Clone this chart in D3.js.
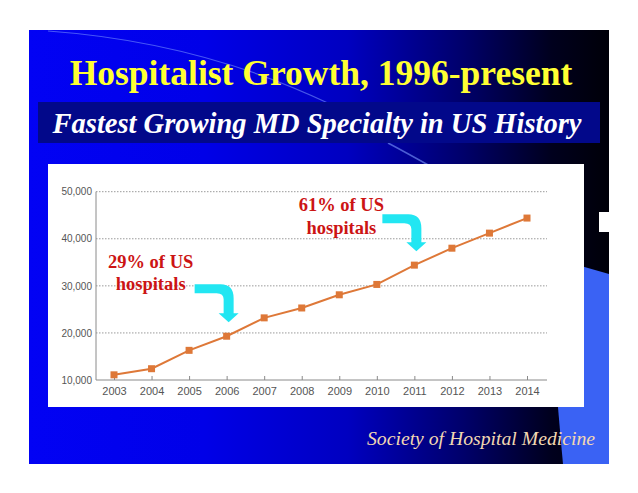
<!DOCTYPE html>
<html><head><meta charset="utf-8">
<script src="https://cdn.jsdelivr.net/npm/d3@7/dist/d3.min.js"></script>
<style>body{margin:0;background:#fff;} svg{display:block}
.serif{font-family:"Liberation Serif","Times New Roman",Times,serif;}
.sans{font-family:"Liberation Sans",Arial,Helvetica,sans-serif;}
</style>
</head><body><svg id="c" width="638" height="493"></svg>
<script>
// ---- data ----
const years = [2003,2004,2005,2006,2007,2008,2009,2010,2011,2012,2013,2014];
const hospitalists = [11100,12400,16300,19300,23200,25300,28100,30300,34400,38000,41200,44400];
const yTicks = [10000,20000,30000,40000,50000];
const gridTicks = [20000,30000,40000,50000];
const annoYears = [2006, 2011];
const annoLine1 = ["29% of US", "61% of US"];
const annoLine2 = ["hospitals", "hospitals"];
const titleText = "Hospitalist Growth, 1996-present";
const subtitleText = "Fastest Growing MD Specialty in US History";
const sourceText = "Society of Hospital Medicine";

// ---- layout ----
const svg = d3.select("#c");
const defs = svg.append("defs");
const g = defs.append("linearGradient").attr("id","bg").attr("x1","0").attr("x2","1").attr("y1","0").attr("y2","0");
[[0,"#0202f4"],[0.3,"#0000e8"],[0.55,"#0000c0"],[0.75,"#00006a"],[0.9,"#00001e"],[1,"#000008"]]
  .forEach(([o,c]) => g.append("stop").attr("offset",o).attr("stop-color",c));

// slide
svg.append("rect").attr("x",29).attr("y",30).attr("width",580).attr("height",434).attr("fill","url(#bg)");
// light-blue wedge lower right
svg.append("path").attr("d","M546,256 L609,274 L609,464 L563,464 Q557,400 546,256 Z").attr("fill","#3a62f4");
// decorative streaks
svg.append("path").attr("d","M48,31 Q200,42 330,104").attr("fill","none").attr("stroke","#7f9cff").attr("stroke-opacity",0.55).attr("stroke-width",1.2);
svg.append("path").attr("d","M388,143 Q405,152 430,166").attr("fill","none").attr("stroke","#7f9cff").attr("stroke-opacity",0.6).attr("stroke-width",1.5);
// small white artifact
svg.append("rect").attr("x",599).attr("y",212).attr("width",18).attr("height",20).attr("fill","#fff");

// title
svg.append("text").attr("class","serif").attr("x",321).attr("y",85).attr("text-anchor","middle")
  .attr("font-weight","bold").attr("font-size",35.5).attr("fill","#ffff33").text(titleText);
// subtitle band
svg.append("rect").attr("x",38).attr("y",102).attr("width",562).attr("height",41).attr("fill","#02088a");
svg.append("text").attr("class","serif").attr("x",317).attr("y",133).attr("text-anchor","middle")
  .attr("font-weight","bold").attr("font-style","italic")
  .attr("font-size",28.5).attr("fill","#ffffff").text(subtitleText);

// chart box
svg.append("rect").attr("x",48).attr("y",164).attr("width",536).attr("height",243).attr("fill","#ffffff");

// scales
const x = d3.scalePoint().domain(years).range([114,527]);
const y = d3.scaleLinear().domain([10000,50000]).range([380,191.7]);
const plotL = 96, plotR = 547;

// gridlines
svg.append("g").selectAll("line").data(gridTicks).join("line")
  .attr("x1",plotL).attr("x2",plotR).attr("y1",d=>y(d)).attr("y2",d=>y(d))
  .attr("stroke","#9a9a9a").attr("stroke-width",1).attr("stroke-dasharray","1.5,1.5");

// axis lines
svg.append("line").attr("x1",plotL).attr("x2",plotL).attr("y1",y(50000)).attr("y2",y(10000)).attr("stroke","#8a8a8a");
svg.append("line").attr("x1",plotL).attr("x2",plotR).attr("y1",y(10000)).attr("y2",y(10000)).attr("stroke","#8a8a8a");

// y axis
const ya = svg.append("g").attr("transform",`translate(${plotL},0)`)
  .call(d3.axisLeft(y).tickValues(yTicks).tickFormat(d3.format(",")).tickSize(0).tickPadding(4));
ya.select(".domain").remove();
ya.attr("font-family",null).attr("font-size",null);
ya.selectAll("text").attr("class","sans").attr("font-size",10).attr("fill","#555");

// x axis
const xa = svg.append("g").attr("transform",`translate(0,${y(10000)})`)
  .call(d3.axisBottom(x).tickSize(-4).tickPadding(7));
xa.select(".domain").remove();
xa.attr("font-family",null).attr("font-size",null);
xa.selectAll("line").attr("stroke","#8a8a8a");
xa.selectAll("text").attr("class","sans").attr("font-size",11).attr("fill","#555");

// line
const pts = years.map((yr,i)=>({yr, v:hospitalists[i]}));
svg.append("path").datum(pts)
  .attr("d", d3.line().x(d=>x(d.yr)).y(d=>y(d.v)))
  .attr("fill","none").attr("stroke","#de7838").attr("stroke-width",2);
svg.append("g").selectAll("rect").data(pts).join("rect")
  .attr("x",d=>x(d.yr)-3.5).attr("y",d=>y(d.v)-3.5).attr("width",7).attr("height",7).attr("fill","#de7838");

// annotations
const annoLayout = [ {l1dx:-78, l1dy:-54, l2dx:-78, l2dy:-32, barDy:-38},
                     {l1dx:-75, l1dy:-40, l2dx:-75, l2dy:-17, barDy:-37} ];
function arrowPath(tx, ty, barDy){
  const bt = ty+barDy, bb = bt+9, sx1 = tx-5, sx2 = tx+5, hb = ty-9, bx = tx-34;
  return `M${bx},${bt} L${tx-8},${bt} Q${sx2},${bt} ${sx2},${bt+14} L${sx2},${hb} L${tx+10},${hb} L${tx},${ty} L${tx-10},${hb} L${sx1},${hb} L${sx1},${bb+6} Q${sx1},${bb} ${tx-12},${bb} L${bx},${bb} Z`;
}
annoYears.forEach((yr,i)=>{
  const v = hospitalists[years.indexOf(yr)];
  const tx = x(yr)+2, ty = y(v)-14, L = annoLayout[i];
  svg.append("path").attr("d",arrowPath(tx,ty,L.barDy)).attr("fill","#22e6f2");
  const t = svg.append("g").attr("class","serif").attr("font-weight","bold")
    .attr("font-size",18.5).attr("fill","#cc1414").attr("text-anchor","middle");
  t.append("text").attr("x",tx+L.l1dx).attr("y",ty+L.l1dy).text(annoLine1[i]);
  t.append("text").attr("x",tx+L.l2dx).attr("y",ty+L.l2dy).text(annoLine2[i]);
});

// source
svg.append("text").attr("class","serif").attr("x",595).attr("y",445).attr("text-anchor","end")
  .attr("font-style","italic").attr("font-size",19.7).attr("fill","#f2d8b2").text(sourceText);
</script></body></html>
